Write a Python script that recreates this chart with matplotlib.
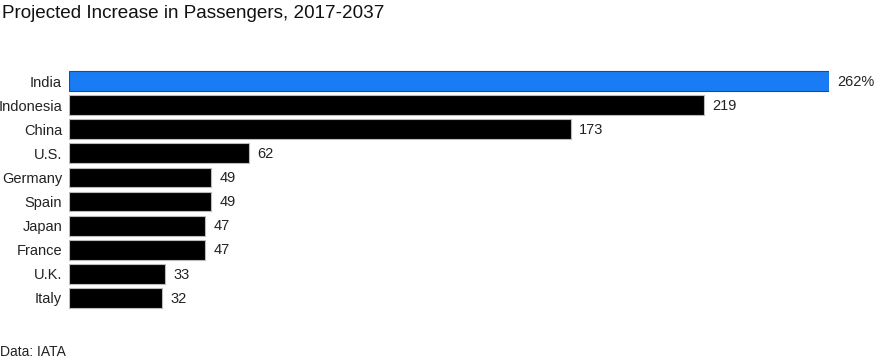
import matplotlib.pyplot as plt

plt.rcParams['font.family'] = ['Liberation Sans', 'DejaVu Sans']

# data
countries = ['India', 'Indonesia', 'China', 'U.S.', 'Germany',
             'Spain', 'Japan', 'France', 'U.K.', 'Italy']
increase = [262, 219, 173, 62, 49, 49, 47, 47, 33, 32]
value_labels = ['262%', '219', '173', '62', '49', '49', '47', '47', '33', '32']

W, H = 878, 364
fig = plt.figure(figsize=(W / 100, H / 100), dpi=100)
ax = fig.add_axes([69 / W, 54 / H, 760 / W, 241 / H])

colors = ['#1a7cf5'] + ['black'] * (len(countries) - 1)
edges = ['#1f4e79'] + ['#bbbbbb'] * (len(countries) - 1)
y = list(range(len(countries)))

ax.barh(y, increase, height=0.82, color=colors, edgecolor=edges, linewidth=0.8)

for yi, v, lab in zip(y, increase, value_labels):
    ax.annotate(lab, (v, yi), xytext=(6, -0.5), textcoords='offset points',
                va='center', ha='left', fontsize=10.5, color='#222222',
                annotation_clip=False)

ax.set_xlim(0, 262)
ax.set_ylim(len(countries) - 0.5, -0.5)
ax.set_yticks(y)
ax.set_yticklabels(countries, fontsize=10.5, color='#222222')
ax.tick_params(axis='y', length=0, pad=5)
ax.set_xticks([])
for s in ax.spines.values():
    s.set_visible(False)

fig.text(2 / W, 1 - 14 / H, 'Projected Increase in Passengers, 2017-2037',
         fontsize=13.6, va='center', ha='left', color='#111111')
fig.text(0 / W, 1 - 352 / H, 'Data: IATA', fontsize=10, va='center',
         ha='left', color='#222222')

fig.savefig('out.png', dpi=100)
